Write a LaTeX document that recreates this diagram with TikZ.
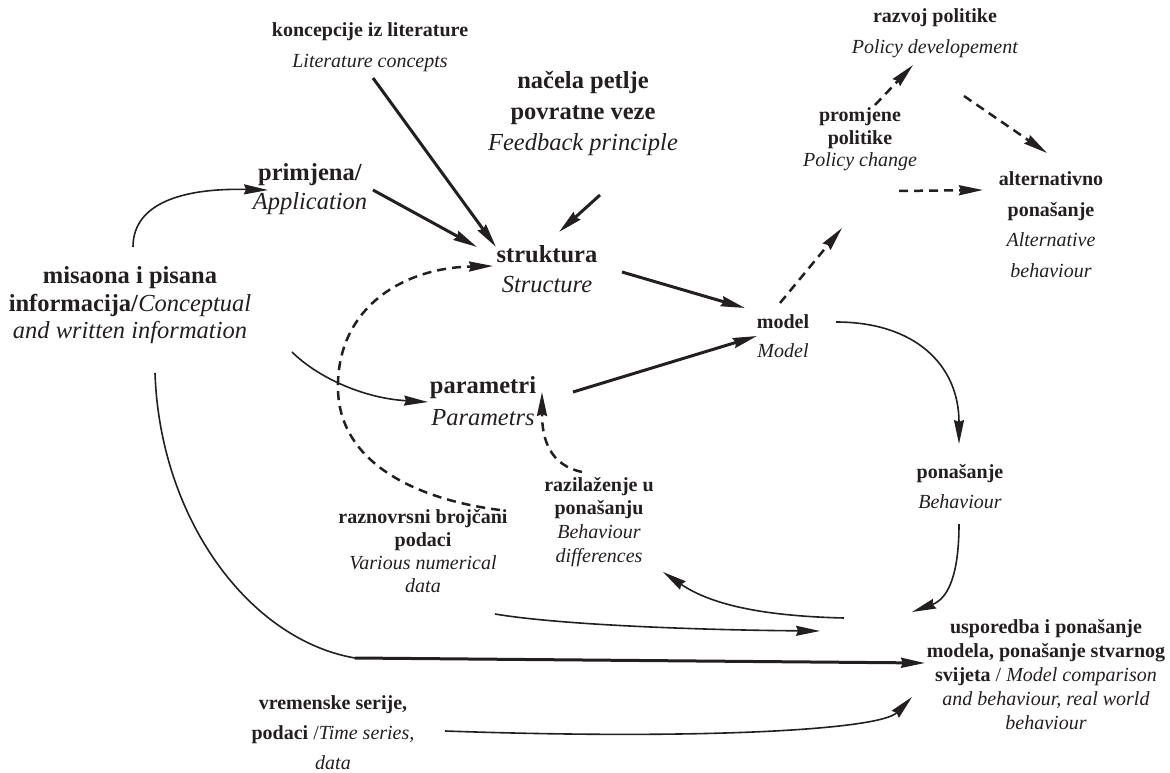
\documentclass[tikz,border=0pt]{standalone}
\usepackage{fontspec}
\setmainfont{Liberation Serif}
\usetikzlibrary{arrows.meta}
\definecolor{ink}{HTML}{231F20}
\begin{document}
\begin{tikzpicture}[x=1pt,y=-1pt,
  >={Stealth[length=24pt,width=10pt,inset=2pt]},
  lab/.style={align=center, inner sep=0pt, text=ink},
  big/.style={lab, font=\fontsize{24.5}{#1}\selectfont},
  small/.style={lab, font=\fontsize{20}{#1}\selectfont},
  heavy/.style={->, draw=ink, line width=3pt},
  light/.style={->, draw=ink, line width=1.6pt},
  dashy/.style={->, draw=ink, line width=2.5pt, dash pattern=on 9pt off 6pt},
]
\useasboundingbox (0,0) rectangle (1170,773);

% ---------- labels ----------
\node[small=31] (konc) at (370,47.5) {\textbf{koncepcije iz literature}\\\textit{Literature concepts}};
\node[big=31] (nacela) at (583,113.7) {\textbf{načela petlje}\\\textbf{povratne veze}\\\textit{Feedback principle}};
\node[big=29] (prim) at (310,189.5) {\textbf{primjena/}\\\textit{Application}};
\node[big=27.5] (mis) at (130,305.5) {\textbf{misaona i pisana}\\\textbf{informacija/}\textit{Conceptual}\\\textit{and written information}};
\node[big=30] (strukt) at (547,269) {\textbf{struktura}\\\textit{Structure}};
\node[big=32] (param) at (483,401) {\textbf{parametri}\\\textit{Parametrs}};
\node[small=29] (model) at (783,336.5) {\textbf{model}\\\textit{Model}};
\node[small=30] (pon) at (960,487) {\textbf{ponašanje}\\\textit{Behaviour}};
\node[small=31] (razvoj) at (935,33.5) {\textbf{razvoj politike}\\\textit{Policy developement}};
\node[small=22.5] (promj) at (860,139.5) {\textbf{promjene}\\\textbf{politike}\\\textit{Policy change}};
\node[small=30.5] (alt) at (1051,224.75) {\textbf{alternativno}\\\textbf{ponašanje}\\\textit{Alternative}\\\textit{behaviour}};
\node[small=22.7] (razn) at (423,551) {\textbf{raznovrsni brojčani}\\\textbf{podaci}\\\textit{Various numerical}\\\textit{data}};
\node[small=23.7] (razil) at (599,521.75) {\textbf{razilaženje u}\\\textbf{ponašanju}\\\textit{Behaviour}\\\textit{differences}};
\node[small=24] (usp) at (1046,674.6) {\textbf{usporedba i ponašanje}\\\textbf{modela, ponašanje stvarnog}\\\textbf{svijeta} / \textit{Model comparison}\\\textit{and behaviour, real world}\\\textit{behaviour}};
\node[small=30] (vrem) at (333,733) {\textbf{vremenske serije,}\\\textbf{podaci} /\textit{Time series,}\\\textit{data}};

% ---------- connector ends ----------
\coordinate (konc-out) at (373,78);
\coordinate (prim-out) at (373,190);
\coordinate (nacela-out) at (600,195);
\coordinate (strukt-in1) at (496,247);
\coordinate (strukt-in2) at (477,247);
\coordinate (strukt-in3) at (559,232);
\coordinate (strukt-in4) at (493,266);
\coordinate (strukt-out) at (622,272);
\coordinate (mis-out1) at (133,247);
\coordinate (mis-out2) at (292,352);
\coordinate (mis-out3) at (155,373);
\coordinate (mis-bend) at (355,658);
\coordinate (prim-in) at (268,190);
\coordinate (param-in1) at (428,402);
\coordinate (param-in2) at (542,392);
\coordinate (param-out) at (573,392);
\coordinate (model-in1) at (745,308);
\coordinate (model-in2) at (757,336);
\coordinate (model-out1) at (836,322);
\coordinate (model-out2) at (780,303);
\coordinate (pon-in) at (959,444);
\coordinate (pon-out) at (959,524);
\coordinate (promj-in) at (842,228);
\coordinate (promj-out1) at (875,105);
\coordinate (promj-out2) at (899,191);
\coordinate (razvoj-in) at (913,65);
\coordinate (razvoj-out) at (964,96);
\coordinate (alt-in1) at (1047,153);
\coordinate (alt-in2) at (983,190);
\coordinate (razn-out1) at (500,510);
\coordinate (razn-out2) at (495,614);
\coordinate (razil-out) at (582,472);
\coordinate (razil-in) at (663,572);
\coordinate (usp-in1) at (912,612);
\coordinate (usp-in2) at (820,631);
\coordinate (usp-in3) at (925,663);
\coordinate (usp-in4) at (912,697);
\coordinate (usp-out) at (844,618);
\coordinate (vrem-out) at (445,731);

% ---------- inputs to the structure ----------
\draw[heavy] (konc-out) -- (strukt-in1);
\draw[heavy] (prim-out) -- (strukt-in2);
\draw[heavy] (nacela-out) -- (strukt-in3);
\draw[dashy] (razn-out1) .. controls (420,500) and (340,465) .. (338,390)
                         .. controls (336,310) and (400,268) .. (strukt-in4);

% ---------- conceptual information ----------
\draw[light] (mis-out1) .. controls (133,200) and (190,188) .. (prim-in);
\draw[light] (mis-out2) .. controls (315,375) and (360,398) .. (param-in1);
\draw[draw=ink, line width=1.6pt] (mis-out3) .. controls (160,520) and (250,640) .. (mis-bend);
\draw[heavy] (mis-bend) -- (usp-in3);

% ---------- model building ----------
\draw[heavy] (strukt-out) -- (model-in1);
\draw[heavy] (param-out) -- (model-in2);
\draw[light] (model-out1) .. controls (915,322) and (959,365) .. (pon-in);
\draw[light] (pon-out) .. controls (959,570) and (950,598) .. (usp-in1);

% ---------- comparison loop ----------
\draw[light] (usp-out) .. controls (760,616) and (710,604) .. (razil-in);
\draw[dashy] (razil-out) .. controls (550,465) and (542,440) .. (param-in2);
\draw[light] (razn-out2) .. controls (560,625) and (700,630) .. (usp-in2);
\draw[light] (vrem-out) .. controls (700,740) and (880,730) .. (usp-in4);

% ---------- policy ----------
\draw[dashy] (model-out2) -- (promj-in);
\draw[dashy] (promj-out1) -- (razvoj-in);
\draw[dashy] (razvoj-out) -- (alt-in1);
\draw[dashy] (promj-out2) -- (alt-in2);
\end{tikzpicture}
\end{document}
